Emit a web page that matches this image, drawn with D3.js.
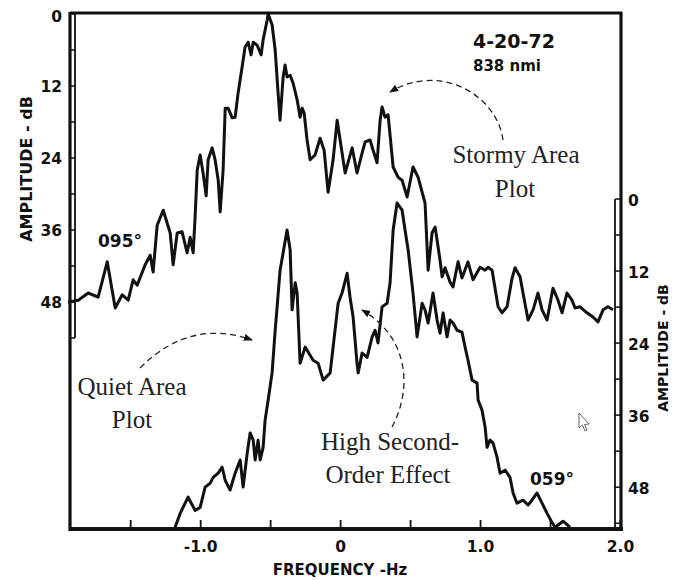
<!DOCTYPE html>
<html><head><meta charset="utf-8">
<script src="https://cdn.jsdelivr.net/npm/d3@7"></script>
<style>
html,body{margin:0;padding:0;background:#fff;}
svg{display:block;}
.sans{font-family:"DejaVu Sans",sans-serif;font-weight:bold;fill:#111;}
.serif{font-family:"Liberation Serif","Times New Roman",serif;fill:#222;}
</style></head>
<body>
<svg id="c" width="674" height="580"></svg>
<script>
// ---- data ----
const stormyFreq = [-1.943,-1.871,-1.8,-1.729,-1.664,-1.607,-1.557,-1.514,-1.479,-1.45,-1.393,-1.357,-1.336,-1.307,-1.264,-1.214,-1.193,-1.164,-1.129,-1.093,-1.071,-1.05,-1.036,-1.021,-1.0,-0.979,-0.957,-0.943,-0.914,-0.893,-0.871,-0.857,-0.836,-0.821,-0.8,-0.771,-0.75,-0.729,-0.7,-0.679,-0.657,-0.636,-0.621,-0.593,-0.564,-0.55,-0.521,-0.514,-0.486,-0.464,-0.443,-0.429,-0.407,-0.393,-0.379,-0.357,-0.336,-0.307,-0.286,-0.271,-0.257,-0.236,-0.214,-0.179,-0.143,-0.114,-0.086,-0.05,-0.021,0,0.036,0.086,0.121,0.157,0.179,0.214,0.236,0.264,0.286,0.3,0.321,0.343,0.379,0.414,0.443,0.479,0.521,0.557,0.607,0.629,0.657,0.679,0.714,0.729,0.75,0.786,0.807,0.843,0.871,0.914,0.95,1.0,1.036,1.057,1.086,1.129,1.157,1.193,1.229,1.25,1.286,1.307,1.343,1.379,1.414,1.443,1.479,1.521,1.557,1.586,1.621,1.657,1.679,1.714,1.764,1.807,1.843,1.879,1.914,1.95];
const stormyDb = [48.0,47.7,46.5,47.2,41.3,49.0,46.8,47.7,44.3,45.2,41.8,40.2,43.0,35.2,32.7,36.5,41.8,36.5,36.3,39.8,37.2,39.8,33.8,26.0,23.5,26.5,30.3,24.3,22.3,24.3,27.7,33.0,26.0,15.7,15.7,17.3,17.2,13.2,8.8,5.5,4.7,6.8,4.7,5.2,6.8,4.3,1.0,0,1.8,6.0,13.2,17.7,10.5,8.5,10.5,10.2,11.5,14.3,17.2,15.7,16.5,21.0,24.3,23.5,20.7,22.7,29.7,24.3,17.7,21.0,26.5,22.3,26.5,23.2,21.3,21.0,22.7,24.8,17.7,15.5,17.2,16.8,25.5,27.2,27.7,30.5,25.5,27.2,31.5,42.7,36.5,35.5,41.0,43.8,42.3,44.7,45.5,41.3,44.0,41.3,44.3,42.2,42.7,42.2,42.7,48.8,49.8,48.8,44.0,42.3,43.8,46.5,51.0,49.3,46.5,49.3,51.0,45.7,47.7,49.8,46.5,47.7,49.0,48.8,49.8,50.5,51.3,49.3,48.8,49.3];
const quietFreq = [-1.179,-1.143,-1.086,-1.036,-1.0,-0.964,-0.929,-0.907,-0.871,-0.843,-0.821,-0.786,-0.75,-0.714,-0.693,-0.664,-0.643,-0.621,-0.607,-0.586,-0.571,-0.55,-0.536,-0.514,-0.486,-0.464,-0.45,-0.429,-0.407,-0.379,-0.357,-0.343,-0.321,-0.307,-0.286,-0.25,-0.193,-0.157,-0.121,-0.071,-0.05,-0.014,0.014,0.05,0.071,0.093,0.121,0.129,0.157,0.193,0.229,0.25,0.271,0.3,0.336,0.357,0.379,0.407,0.443,0.464,0.486,0.521,0.55,0.586,0.607,0.629,0.664,0.693,0.714,0.736,0.764,0.786,0.807,0.836,0.871,0.893,0.914,0.943,0.979,0.986,1.014,1.036,1.05,1.071,1.093,1.121,1.143,1.179,1.214,1.236,1.264,1.307,1.343,1.371,1.407,1.443,1.479,1.514,1.536,1.593,1.643];
const quietDb = [54.5,52.2,49.5,51.7,51.2,47.8,47.2,46.2,45.5,44.5,46.7,48.3,45.5,43.3,47.8,42.2,38.8,40.0,43.3,40.0,43.3,41.2,36.7,33.3,28.8,21.7,17.8,11.7,8.8,5.0,8.3,18.3,13.8,15.5,27.2,24.5,26.7,27.2,30.0,28.8,24.5,17.2,15.5,12.2,16.2,19.5,27.2,28.8,25.5,26.2,22.8,21.7,23.8,17.8,17.2,13.8,5.0,0.5,1.7,5.0,8.3,15.5,22.8,17.2,18.3,20.5,15.5,20.0,22.2,18.8,22.8,20.0,20.5,21.7,22.0,24.5,26.7,30.0,30.5,33.3,35.0,37.8,41.2,40.0,40.5,42.8,45.5,45.0,46.2,48.8,50.5,50.0,50.8,50.0,48.8,50.5,52.2,53.7,54.5,53.5,54.5];
const xTickValues = [-1.5,-1.0,-0.5,0,0.5,1.0,1.5,2.0];
const xTickLabels = {"-1":"-1.0","0":"0","1":"1.0","2":"2.0"};
const yTickValues = [0,12,24,36,48];
const yMinorStep = 6;

// ---- layout ----
const svg = d3.select("#c");
const L = 70, R = 621, T = 14, B = 529;
const x = d3.scaleLinear().domain([-1.93, 2.0]).range([L, 620]);
const yL = d3.scaleLinear().domain([0, 54]).range([T, 338]);
const yR = d3.scaleLinear().domain([0, 54.8]).range([200, B]);

// frame
svg.append("line").attr("x1",L).attr("x2",R+1).attr("y1",13).attr("y2",13).attr("stroke","#111").attr("stroke-width",3.2);
svg.append("line").attr("x1",L-1).attr("x2",R+2).attr("y1",B).attr("y2",B).attr("stroke","#111").attr("stroke-width",4);
svg.append("line").attr("x1",L).attr("x2",L).attr("y1",12).attr("y2",B+2).attr("stroke","#111").attr("stroke-width",3.2);
svg.append("line").attr("x1",R).attr("x2",R).attr("y1",12).attr("y2",B+2).attr("stroke","#111").attr("stroke-width",3.2);

// left ruler bar
const gl = svg.append("g");
gl.append("line").attr("x1",L+5).attr("x2",L+5).attr("y1",yL(0)).attr("y2",yL(54)).attr("stroke","#111").attr("stroke-width",1.8);
gl.selectAll("line.t").data(d3.range(0,55,yMinorStep)).join("line").attr("class","t")
  .attr("x1",L).attr("x2",L+5).attr("y1",d=>yL(d)).attr("y2",d=>yL(d)).attr("stroke","#111").attr("stroke-width",1.5);
gl.selectAll("text").data(yTickValues).join("text").attr("class","sans")
  .attr("x",62).attr("y",d=>yL(d)+ (d===0?8:6)).attr("text-anchor","end").attr("font-size",15.5).text(d=>d);

// right ruler bar
const gr = svg.append("g");
gr.append("line").attr("x1",R-6).attr("x2",R-6).attr("y1",yR(0)-1).attr("y2",B).attr("stroke","#111").attr("stroke-width",1.8);
gr.selectAll("line.t").data(d3.range(0,55,yMinorStep)).join("line").attr("class","t")
  .attr("x1",R-6).attr("x2",R).attr("y1",d=>yR(d)-1).attr("y2",d=>yR(d)-1).attr("stroke","#111").attr("stroke-width",1.5);
gr.selectAll("text").data(yTickValues).join("text").attr("class","sans")
  .attr("x",628).attr("y",d=>yR(d)+6).attr("text-anchor","start").attr("font-size",15.5).text(d=>d);

// bottom axis
const xAxis = d3.axisBottom(x).tickValues(xTickValues).tickSize(-9).tickPadding(0)
  .tickFormat(d => xTickLabels[String(d)] || "");
const gx = svg.append("g").attr("transform",`translate(0,${B})`).call(xAxis);
gx.select(".domain").remove();
gx.selectAll(".tick line").attr("stroke","#111").attr("stroke-width",1.8);
gx.selectAll(".tick text").attr("class","sans").attr("font-size",15.5).attr("dy",0).attr("y",23).attr("fill","#111");

// axis titles
svg.append("text").attr("class","sans").attr("font-size",15).attr("text-anchor","middle")
  .attr("x",340).attr("y",575).text("FREQUENCY -Hz");
svg.append("text").attr("class","sans").attr("font-size",16).attr("text-anchor","middle")
  .attr("transform","translate(32,169) rotate(-90)").text("AMPLITUDE - dB");
svg.append("text").attr("class","sans").attr("font-size",14).attr("text-anchor","middle")
  .attr("transform","translate(668,348) rotate(-90)").text("AMPLITUDE - dB");

// curves
const lineL = d3.line().x(d=>x(d[0])).y(d=>yL(d[1]));
const lineR = d3.line().x(d=>x(d[0])).y(d=>yR(d[1]));
svg.append("path").datum(d3.zip(stormyFreq, stormyDb)).attr("d",lineL)
  .attr("fill","none").attr("stroke","#111").attr("stroke-width",3).attr("stroke-linejoin","round");
svg.append("path").datum(d3.zip(quietFreq, quietDb)).attr("d",lineR)
  .attr("fill","none").attr("stroke","#111").attr("stroke-width",3).attr("stroke-linejoin","round");

// labels
svg.append("text").attr("class","sans").attr("font-size",19).attr("x",473).attr("y",48).text("4-20-72");
svg.append("text").attr("class","sans").attr("font-size",15).attr("x",473).attr("y",71).text("838 nmi");
svg.append("text").attr("class","sans").attr("font-size",17).attr("x",98).attr("y",247).text("095°");
svg.append("text").attr("class","sans").attr("font-size",17).attr("x",530).attr("y",485).text("059°");

// serif annotations
const ann = [["Stormy Area",516,163],["Plot",515,197],["Quiet Area",132,395],["Plot",132,428],["High Second-",390,450],["Order Effect",388,483]];
svg.selectAll("text.ann").data(ann).join("text").attr("class","serif ann")
  .attr("x",d=>d[1]).attr("y",d=>d[2]).attr("text-anchor","middle").attr("font-size",25).text(d=>d[0]);

// dashed arrows
const defs = svg.append("defs");
defs.append("marker").attr("id","ah").attr("viewBox","0 0 10 10").attr("refX",9).attr("refY",5)
  .attr("markerWidth",9).attr("markerHeight",9).attr("orient","auto").attr("markerUnits","userSpaceOnUse")
  .append("path").attr("d","M0,1 L10,5 L0,9 Z").attr("fill","#111");
const arrows = ["M503,140 C497,95 440,62 390,92","M140,368 Q190,318 252,340","M392,427 C412,390 410,338 362,310"];
svg.selectAll("path.arr").data(arrows).join("path").attr("class","arr").attr("d",d=>d)
  .attr("fill","none").attr("stroke","#222").attr("stroke-width",1.3).attr("stroke-dasharray","6,4")
  .attr("marker-end","url(#ah)");

// cursor artifact
svg.append("path").attr("d","M579,413 L579,428 L582.5,425 L585,431 L587,430 L584.5,424.5 L589,424 Z")
  .attr("fill","#fff").attr("stroke","#555").attr("stroke-width",0.9);
</script>
</body></html>
